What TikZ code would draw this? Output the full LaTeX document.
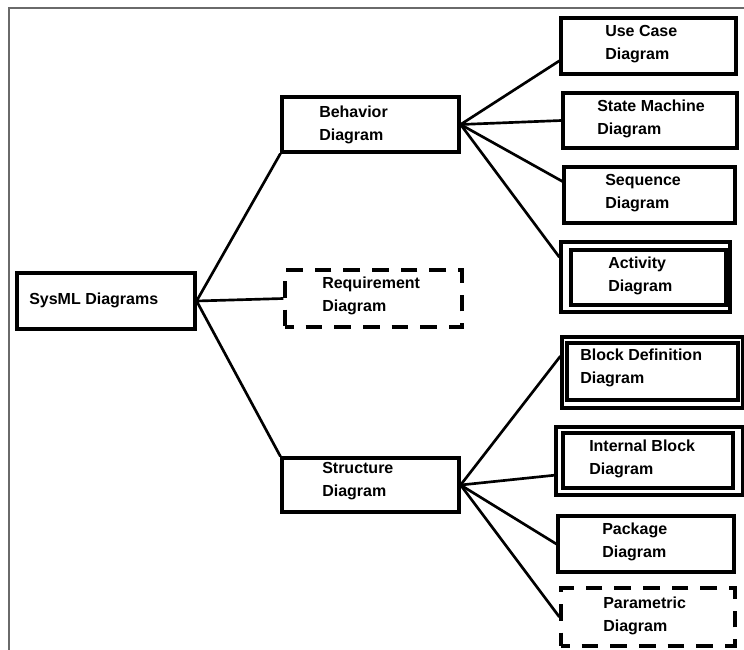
\documentclass[tikz,border=0pt]{standalone}
\usepackage{fontspec}
\setmainfont{Liberation Sans}
\usetikzlibrary{fit,calc}
\definecolor{framegray}{HTML}{6A6A6A}
\begin{document}
\begin{tikzpicture}[x=0.75pt,y=-0.75pt,
  box/.style={draw, line width=2.4pt, inner sep=0pt},
  dbox/.style={draw, line width=2.4pt, inner sep=0pt, dash pattern=on 12.5pt off 9pt, dash phase=6pt},
  lbl/.style={anchor=west, align=left, inner sep=0pt,
    font=\fontsize{12}{17.25}\selectfont\bfseries},
  link/.style={line width=2pt}]
\useasboundingbox (0,0) rectangle (744,650);
% frame
\draw[framegray, line width=1.5pt] (9,650) -- (9,7.5) -- (744,7.5);

% root
\node[box, fit={(17,273) (195,329)}] (sys) {};
\node[lbl] (sysT) at (29,300) {SysML Diagrams};

% second level
\node[box, fit={(282,97) (459,152)}] (beh) {};
\node[lbl] (behT) at (319,124.5) {Behavior\\Diagram};
\node[dbox, fit={(285,270) (462,327)}] (req) {};
\node[lbl] (reqT) at (322,296) {Requirement\\Diagram};
\node[box, fit={(282,458) (459,512)}] (str) {};
\node[lbl] (strT) at (322,481) {Structure\\Diagram};

% behavior diagrams
\node[box, fit={(561,18) (736,74)}] (uc) {};
\node[lbl] (ucT) at (605,44) {Use Case\\Diagram};
\node[box, fit={(563,93) (737,148)}] (sm) {};
\node[lbl] (smT) at (597,119) {State Machine\\Diagram};
\node[box, fit={(564,167) (735,223)}] (seq) {};
\node[lbl] (seqT) at (605,193) {Sequence\\Diagram};
\node[box, fit={(561,242) (730,312)}] (actO) {};
\node[box, fit={(571,250) (726,305)}] (actI) {};
\node[lbl] (actT) at (608,276) {Activity\\Diagram};

% structure diagrams
\node[box, fit={(562,337) (743,408)}] (bddO) {};
\node[box, fit={(567,343) (738,400)}] (bddI) {};
\node[lbl] (bddT) at (580,368) {Block Definition\\Diagram};
\node[box, fit={(556,427) (743,495)}] (ibdO) {};
\node[box, fit={(563,433) (733,488)}] (ibdI) {};
\node[lbl] (ibdT) at (589,459) {Internal Block\\Diagram};
\node[box, fit={(558,516) (734,572)}] (pkg) {};
\node[lbl] (pkgT) at (602,542) {Package\\Diagram};
\node[dbox, fit={(561,588) (735,646)}] (par) {};
\node[lbl] (parT) at (603,616) {Parametric\\Diagram};

% connectors
\draw[link] (sys.east) -- (beh.south west);
\draw[link] (sys.east) -- (req.west);
\draw[link] (sys.east) -- (str.north west);

\draw[link] (beh.east) -- ($(uc.north west)!0.75!(uc.south west)$);
\draw[link] (beh.east) -- (sm.west);
\draw[link] (beh.east) -- ($(seq.north west)!0.27!(seq.south west)$);
\draw[link] (beh.east) -- ($(actO.north west)!0.23!(actO.south west)$);

\draw[link] (str.east) -- ($(bddO.north west)!0.28!(bddO.south west)$);
\draw[link] (str.east) -- ($(ibdO.north west)!0.7!(ibdO.south west)$);
\draw[link] (str.east) -- (pkg.west);
\draw[link] (str.east) -- (par.west);
\end{tikzpicture}
\end{document}
